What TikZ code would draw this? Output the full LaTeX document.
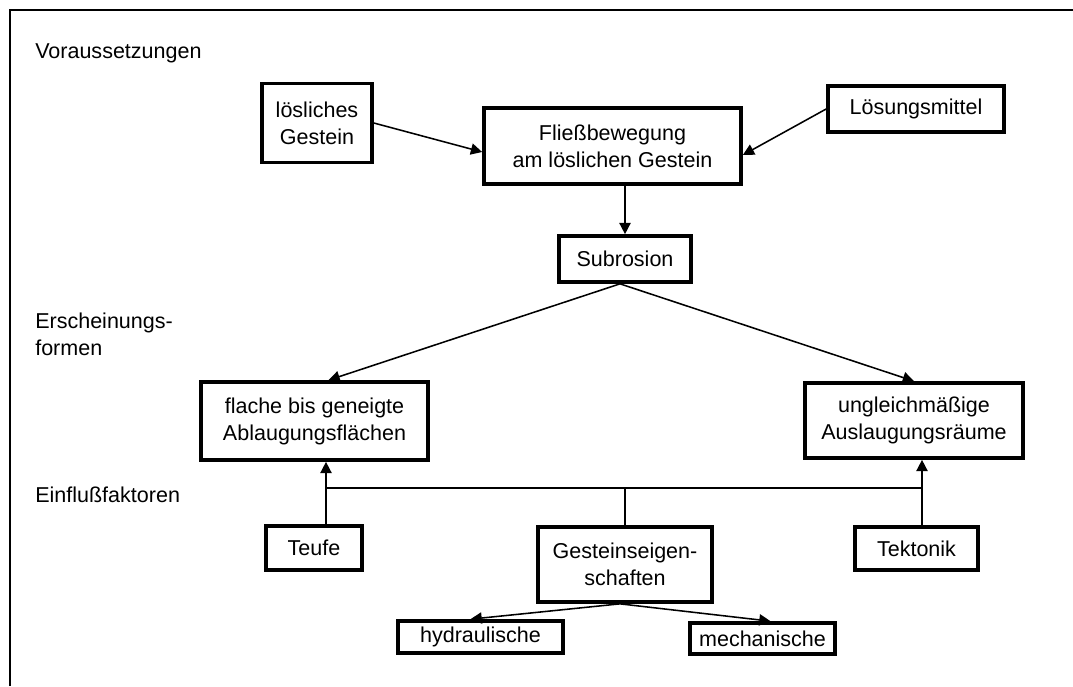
\documentclass[tikz,border=0pt]{standalone}
\usepackage{fontspec}
\setmainfont{Liberation Sans}
\usepackage{tikz}
\usetikzlibrary{positioning,calc,arrows.meta}

\begin{document}
\begin{tikzpicture}[
    x=0.025cm, y=-0.025cm,
    box/.style={draw, line width=2.6pt, align=center, inner sep=2pt, font=\fontsize{15.3}{19.2}\selectfont},
    lbl/.style={anchor=west, align=left, inner sep=0pt, font=\fontsize{15.3}{19.2}\selectfont},
    arrow/.style={->, line width=1.1pt, >={Triangle[length=8pt,width=8pt]}},
    link/.style={line width=1.1pt}
]
\useasboundingbox (0,0) rectangle (1073,686);

% Frame
\draw[line width=1.4pt] (10,686) -- (10,10) -- (1073,10);

% Row labels
\node[lbl] (vor) at (35,53) {Voraussetzungen};
\node[lbl] (ersch) at (35,334) {Erscheinungs-\\formen};
\node[lbl] (einfl) at (35,495) {Einflußfaktoren};

% Voraussetzungen
\node[box, minimum width=2.75cm, minimum height=1.975cm] (loes) at (317,123) {lösliches\\Gestein};
\node[box, minimum width=6.425cm, minimum height=1.9cm] (fliess) at (612.5,146) {Fließbewegung\\am löslichen Gestein};
\node[box, minimum width=4.4cm, minimum height=1.15cm] (mittel) at (916,109) {Lösungsmittel};
\node[box, minimum width=3.3cm, minimum height=1.15cm] (sub) at (625,259) {Subrosion};

\draw[arrow] (loes.east) -- ([yshift=-0.15cm]fliess.west);
\draw[arrow] (mittel.west) -- ([yshift=-0.225cm]fliess.east);
\draw[arrow] (sub.north |- fliess.south) -- (sub.north);

% Erscheinungsformen
\node[box, minimum width=5.675cm, minimum height=1.95cm] (flache) at (314.5,421) {flache bis geneigte\\Ablaugungsflächen};
\node[box, minimum width=5.45cm, minimum height=1.875cm] (ungl) at (914,420.5) {ungleichmäßige\\Auslaugungsräume};

\draw[arrow] ([xshift=-0.125cm]sub.south) -- ([xshift=0.35cm]flache.north);
\draw[arrow] ([xshift=-0.125cm]sub.south) -- (ungl.north);

% Einflussfaktoren
\node[box, minimum width=2.4cm, minimum height=1.1cm] (teufe) at (314,548) {Teufe};
\node[box, minimum width=4.35cm, minimum height=1.875cm] (gestein) at (625,564.5) {Gesteinseigen-\\schaften};
\node[box, minimum width=3.075cm, minimum height=1.075cm] (tekt) at (916.5,548.5) {Tektonik};
\node[box, minimum width=4.125cm, minimum height=0.8cm] (hydr) at (480.5,637) {hydraulische};
\node[box, minimum width=3.625cm, minimum height=0.775cm] (mech) at (762.5,638.5) {mechanische};

\coordinate (busl) at (326,488);
\coordinate (busr) at (922,488);
\draw[link] (busl) -- (busr);
\draw[link] (gestein.north) -- (gestein.north |- busl);
\draw[arrow] (teufe.north -| busl) -- (flache.south -| busl);
\draw[arrow] (tekt.north -| busr) -- (ungl.south -| busr);

\draw[arrow] ([xshift=-0.125cm]gestein.south) -- ([xshift=-0.25cm]hydr.north);
\draw[arrow] ([xshift=-0.125cm]gestein.south) -- ([xshift=0.2cm]mech.north);

\end{tikzpicture}
\end{document}
